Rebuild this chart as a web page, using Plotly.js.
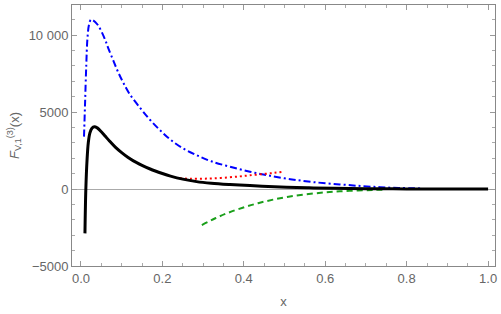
<!DOCTYPE html>
<html>
<head>
<meta charset="utf-8">
<script src="https://cdn.plot.ly/plotly-3.0.1.min.js"></script>
<style>html,body{margin:0;padding:0;background:#fff;}#chart{width:501px;height:314px;}</style>
</head>
<body>
<div id="chart"></div>
<script>
// Black solid curve F_{V,1}^{(3)}(x)
const blackX = [0.0098, 0.012, 0.015, 0.018, 0.022, 0.027, 0.033, 0.04, 0.05, 0.06, 0.07, 0.085, 0.1, 0.115, 0.13, 0.15, 0.17, 0.2, 0.22, 0.25, 0.284, 0.32, 0.366, 0.415, 0.46, 0.505, 0.56, 0.62, 0.7, 0.8, 0.9, 1.0];
const blackY = [-2880, 0, 1900, 3000, 3650, 3950, 4050, 3970, 3720, 3420, 3120, 2700, 2360, 2060, 1810, 1540, 1300, 1010, 840, 640, 480, 375, 290, 220, 160, 115, 75, 45, 20, 8, 3, 0];

// Blue dash-dot curve
const blueX = [0.0075, 0.01, 0.013, 0.016, 0.02, 0.0246, 0.03, 0.04, 0.05, 0.06, 0.067, 0.08, 0.092, 0.105, 0.12, 0.145, 0.17, 0.195, 0.22, 0.25, 0.284, 0.32, 0.366, 0.415, 0.46, 0.514, 0.57, 0.636, 0.69, 0.735, 0.78, 0.833];
const blueY = [3400, 5500, 8000, 9800, 10700, 11000, 10950, 10700, 10250, 9650, 9150, 8300, 7550, 6850, 6150, 5280, 4480, 3800, 3200, 2650, 2200, 1800, 1450, 1125, 880, 640, 450, 300, 190, 120, 70, 40];

// Red dotted curve
const redX = [0.243, 0.27, 0.3, 0.325, 0.36, 0.39, 0.415, 0.448, 0.475, 0.497];
const redY = [695, 665, 670, 695, 750, 820, 890, 975, 1050, 1125];

// Green dashed curve
const greenX = [0.297, 0.33, 0.36, 0.399, 0.435, 0.472, 0.51, 0.554, 0.6, 0.636, 0.68, 0.718, 0.75];
const greenY = [-2340, -1900, -1560, -1200, -920, -690, -500, -340, -220, -150, -95, -60, -40];

// Tick labels
const yTickVals = [-5000, 0, 5000, 10000];
const yTickText = ['\u22125000', '0', '5000', '10 000'];
const xTickVals = [0, 0.2, 0.4, 0.6, 0.8, 1.0];
const xTickText = ['0.0', '0.2', '0.4', '0.6', '0.8', '1.0'];

const font = "Liberation Sans, Arial, sans-serif";
const gray = '#666666';

const traces = [
  {x: blueX, y: blueY, mode: 'lines', line: {color: '#0000ff', width: 2, dash: '7px,3px,2px,3px', shape: 'spline'}, hoverinfo: 'skip'},
  {x: redX, y: redY, mode: 'lines', line: {color: '#ff0000', width: 2, dash: '2px,3px', shape: 'spline'}, hoverinfo: 'skip'},
  {x: greenX, y: greenY, mode: 'lines', line: {color: '#1a9f1a', width: 2, dash: '6px,4px', shape: 'spline'}, hoverinfo: 'skip'},
  {x: blackX, y: blackY, mode: 'lines', line: {color: '#000000', width: 3, shape: 'spline'}, hoverinfo: 'skip'}
];

const layout = {
  width: 501, height: 314,
  margin: {l: 72, r: 6, t: 5, b: 48},
  paper_bgcolor: '#fff', plot_bgcolor: '#fff',
  showlegend: false,
  font: {family: font, size: 13, color: gray},
  xaxis: {
    range: [-0.022, 1.017],
    tickmode: 'array', tickvals: xTickVals, ticktext: xTickText,
    ticks: 'inside', ticklen: 5, tickcolor: '#999', tickwidth: 1,
    minor: {dtick: 0.05, tick0: 0, ticks: 'inside', ticklen: 3, tickcolor: '#aaa', showgrid: false},
    showline: true, linecolor: '#888', linewidth: 1, mirror: 'ticks',
    showgrid: false, zeroline: false,
    tickfont: {family: font, size: 13, color: gray},
    title: {text: 'x', font: {family: font, size: 13, color: gray}, standoff: 12}
  },
  yaxis: {
    range: [-5000, 11950],
    tickmode: 'array', tickvals: yTickVals, ticktext: yTickText,
    ticks: 'inside', ticklen: 5, tickcolor: '#999', tickwidth: 1,
    minor: {dtick: 1000, tick0: 0, ticks: 'inside', ticklen: 3, tickcolor: '#aaa', showgrid: false},
    showline: true, linecolor: '#888', linewidth: 1, mirror: 'ticks',
    showgrid: false, zeroline: true, zerolinecolor: '#aaa', zerolinewidth: 1,
    tickfont: {family: font, size: 13, color: gray},
    title: {text: '<i>F</i><sub>V,1</sub><sup>(3)</sup>(x)', font: {family: font, size: 13, color: gray}, standoff: 6}
  }
};

Plotly.newPlot('chart', traces, layout, {staticPlot: true, displayModeBar: false});
</script>
</body>
</html>
